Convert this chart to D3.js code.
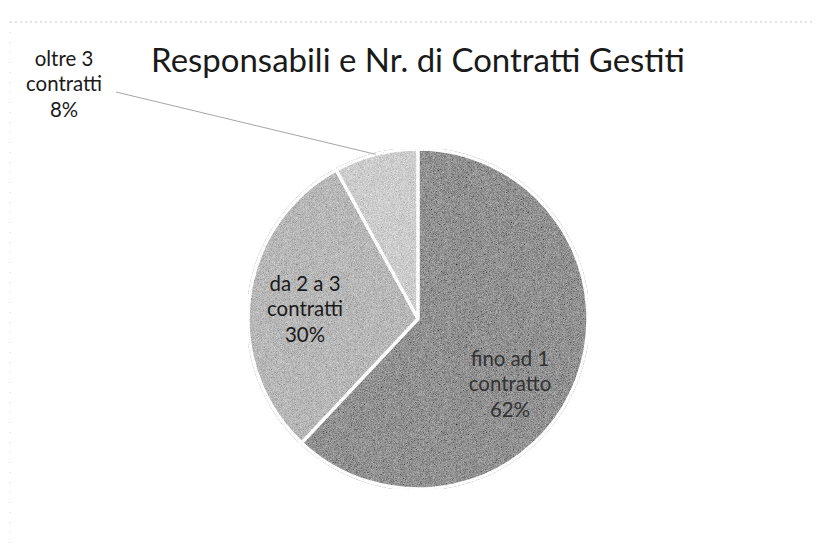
<!DOCTYPE html>
<html>
<head>
<meta charset="utf-8">
<script src="https://cdn.jsdelivr.net/npm/d3@7"></script>
<style>
body { margin: 0; background: #fff; }
svg text { font-family: Lato, "Noto Sans", sans-serif; }
</style>
</head>
<body>
<script>
// DATA
var chart_title = "Responsabili e Nr. di Contratti Gestiti";
var categories = ["fino ad 1 contratto", "da 2 a 3 contratti", "oltre 3 contratti"];
var label_lines = [["fino ad 1", "contratto"], ["da 2 a 3", "contratti"], ["oltre 3", "contratti"]];
var values = [62, 30, 8];

// LAYOUT
var width = 816, height = 553;
var cx = 418, cy = 319, radius = 170;
var slice_colors = ["#929292", "#b8b8b8", "#cdcdcd"];
// label centre for each slice (oltre 3 sits outside with a leader line)
var label_pos = [{"x": 510, "y": 385}, {"x": 305, "y": 310}, {"x": 64, "y": 85}];
var line_gap = 25.5;
var title_width = 534;   // measured span of the title in the picture
var word_width = 76;     // span of "contratti" in the labels

var svg = d3.select("body").append("svg")
	.attr("width", width)
	.attr("height", height);

// grain filter to get the scanned look
var defs = svg.append("defs");
var grain = defs.append("filter").attr("id", "grain")
	.attr("x", 0).attr("y", 0).attr("width", "100%").attr("height", "100%");
grain.append("feTurbulence")
	.attr("type", "fractalNoise").attr("baseFrequency", 1.6)
	.attr("numOctaves", 1).attr("seed", 7).attr("result", "noise");
grain.append("feColorMatrix").attr("in", "noise").attr("type", "matrix")
	.attr("values", "0.33 0.33 0.33 0 0  0.33 0.33 0.33 0 0  0.33 0.33 0.33 0 0  0 0 0 0 1")
	.attr("result", "gray");
grain.append("feComposite").attr("in", "SourceGraphic").attr("in2", "gray")
	.attr("operator", "arithmetic")
	.attr("k1", 0).attr("k2", 1).attr("k3", 1.1).attr("k4", -0.55)
	.attr("result", "mix");
grain.append("feComposite").attr("in", "mix").attr("in2", "SourceGraphic").attr("operator", "in");

// faint scan border
svg.append("line").attr("x1", 10).attr("y1", 22).attr("x2", width - 4).attr("y2", 22)
	.attr("stroke", "#c8c8c8").attr("stroke-width", 1).attr("stroke-dasharray", "2,3");
svg.append("line").attr("x1", 10).attr("y1", 22).attr("x2", 10).attr("y2", height - 5)
	.attr("stroke", "#d0d0d0").attr("stroke-width", 1).attr("stroke-dasharray", "1,9");

// fit font size of a text node to a target width
var fit_font = function(sel, target)
{
	var base = 20;
	sel.attr("font-size", base);
	var w = sel.node().getComputedTextLength();
	return base * target / w;
}

// title
var title = svg.append("text")
	.attr("x", cx).attr("y", 72)
	.attr("text-anchor", "middle")
	.attr("fill", "#1a1a1a")
	.text(chart_title);
title.attr("font-size", fit_font(title, title_width));

// label size from the width of "contratti"
var probe = svg.append("text").text("contratti");
var label_size = fit_font(probe, word_width);
probe.remove();

// PIE
var pie = d3.pie().sort(null).value(function(d){ return d; });
var arcs = pie(values);
var arc = d3.arc().innerRadius(0).outerRadius(radius);
var edge_arc = d3.arc().innerRadius(radius).outerRadius(radius);

var g = svg.append("g").attr("transform", "translate(" + cx + "," + cy + ")");

g.selectAll("path.slice")
	.data(arcs)
	.enter()
	.append("path")
	.attr("class", "slice")
	.attr("d", arc)
	.attr("fill", function(d, i){ return slice_colors[i]; })
	.attr("filter", "url(#grain)")
	.attr("stroke", "#fff")
	.attr("stroke-width", 3.5)
	.attr("stroke-linejoin", "round");

// leader line for the small slice
var small = arcs[2];
var p = edge_arc.centroid(small);
svg.append("path")
	.attr("d", "M" + (cx + p[0]) + "," + (cy + p[1]) + "L" + (label_pos[2].x + 52) + "," + (label_pos[2].y + 7))
	.attr("fill", "none")
	.attr("stroke", "#a6a6a6")
	.attr("stroke-width", 1);

// data labels
var labels = svg.selectAll("text.dlabel")
	.data(arcs)
	.enter()
	.append("text")
	.attr("class", "dlabel")
	.attr("text-anchor", "middle")
	.attr("font-size", label_size)
	.attr("fill", function(d, i){ return i == 0 ? "#333" : "#1a1a1a"; })
	.attr("transform", function(d, i){ return "translate(" + label_pos[i].x + "," + label_pos[i].y + ")"; });

labels.each(function(d, i){
	var t = d3.select(this);
	var lines = label_lines[i].concat([d.data + "%"]);
	lines.forEach(function(s, k){
		t.append("tspan")
			.attr("x", 0)
			.attr("y", (k - 1) * line_gap + 6)
			.text(s);
	});
});
</script>
</body>
</html>
